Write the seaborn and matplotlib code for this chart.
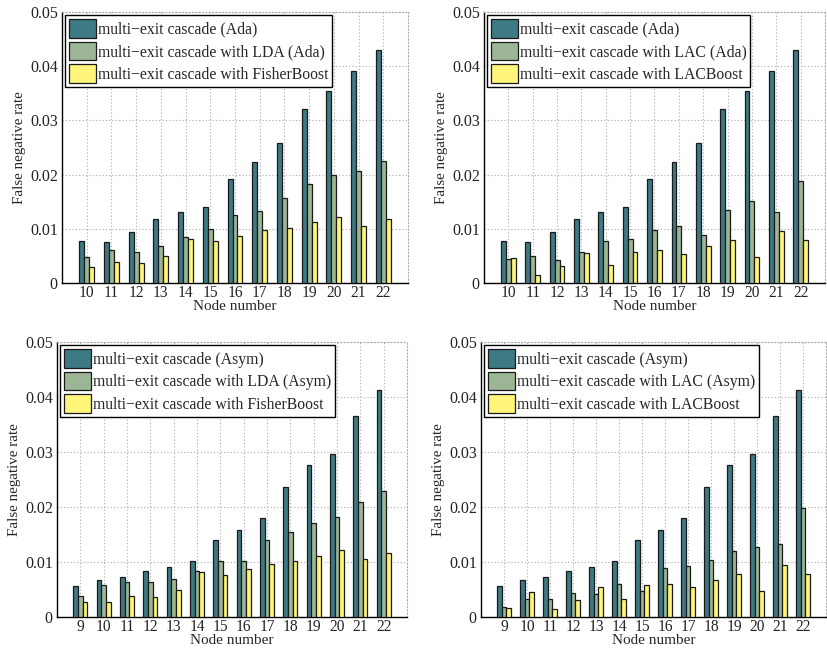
import pandas as pd
import matplotlib
matplotlib.use("Agg")
import matplotlib.pyplot as plt
import seaborn as sns

# Dados (taxa de falsos negativos por nó)
nodes_top = [10, 11, 12, 13, 14, 15, 16, 17, 18, 19, 20, 21, 22]
nodes_bot = [9, 10, 11, 12, 13, 14, 15, 16, 17, 18, 19, 20, 21, 22]

ada = [0.0077, 0.0075, 0.0094, 0.0118, 0.0131, 0.0141, 0.0191, 0.0223, 0.0258,
       0.0321, 0.0355, 0.0391, 0.0429]
lda_ada = [0.0048, 0.0060, 0.0058, 0.0068, 0.0085, 0.0100, 0.0125, 0.0133, 0.0156,
           0.0183, 0.0200, 0.0206, 0.0226]
fisher_top = [0.0030, 0.0039, 0.0037, 0.0050, 0.0081, 0.0077, 0.0087, 0.0098, 0.0102,
              0.0112, 0.0122, 0.0106, 0.0118]
lac_ada = [0.0044, 0.0050, 0.0042, 0.0058, 0.0077, 0.0081, 0.0098, 0.0106, 0.0089,
           0.0135, 0.0151, 0.0131, 0.0189]
lacboost_top = [0.0046, 0.0015, 0.0031, 0.0056, 0.0033, 0.0058, 0.0060, 0.0054, 0.0068,
                0.0079, 0.0048, 0.0096, 0.0079]

asym = [0.0056, 0.0068, 0.0072, 0.0083, 0.0091, 0.0101, 0.0140, 0.0159, 0.0180,
        0.0236, 0.0276, 0.0296, 0.0365, 0.0412]
lda_asym = [0.0039, 0.0058, 0.0064, 0.0064, 0.0069, 0.0083, 0.0101, 0.0101, 0.0140,
            0.0155, 0.0171, 0.0182, 0.0209, 0.0230]
fisher_bot = [0.0028, 0.0028, 0.0039, 0.0037, 0.0050, 0.0081, 0.0077, 0.0087, 0.0097,
              0.0101, 0.0111, 0.0122, 0.0105, 0.0117]
lac_asym = [0.0019, 0.0033, 0.0033, 0.0043, 0.0042, 0.0060, 0.0047, 0.0089, 0.0093,
            0.0103, 0.0120, 0.0128, 0.0132, 0.0198]
lacboost_bot = [0.0017, 0.0045, 0.0014, 0.0031, 0.0055, 0.0033, 0.0058, 0.0060, 0.0054,
                0.0068, 0.0078, 0.0047, 0.0095, 0.0078]

cores = ["#3d7a84", "#9bb595", "#fff57a"]

sns.set_theme(style="white")
plt.rcParams.update({
    "font.family": ["Liberation Serif", "DejaVu Serif"],
    "font.size": 10.5,
    "axes.linewidth": 1.0,
})


def monta_df(nodes, series, nomes):
    linhas = []
    for nome, vals in zip(nomes, series):
        for n, v in zip(nodes, vals):
            linhas.append({"node": str(n), "metodo": nome, "fnr": v})
    return pd.DataFrame(linhas)


def painel(ax, nodes, series, nomes):
    df = monta_df(nodes, series, nomes)
    sns.barplot(data=df, x="node", y="fnr", hue="metodo", palette=cores,
                saturation=1, width=0.6, edgecolor="#1a1a1a", linewidth=0.9,
                ax=ax, order=[str(n) for n in nodes], hue_order=nomes, zorder=3)
    ax.set_xlim(-1, len(nodes))
    ax.set_ylim(0, 0.05)
    ax.set_yticks([0, 0.01, 0.02, 0.03, 0.04, 0.05])
    ax.set_yticklabels(["0", "0.01", "0.02", "0.03", "0.04", "0.05"])
    ax.grid(True, linestyle=(0, (1, 2)), color="#aaaaaa", linewidth=0.8, zorder=0)
    ax.set_axisbelow(True)
    for s in ["top", "right"]:
        ax.spines[s].set_linestyle((0, (1, 2)))
        ax.spines[s].set_color("#aaaaaa")
        ax.spines[s].set_linewidth(0.8)
    for s in ["left", "bottom"]:
        ax.spines[s].set_color("black")
    ax.tick_params(axis="y", direction="in", length=3, labelsize=11.5,
                   colors="#222222", pad=3)
    ax.tick_params(axis="x", direction="in", length=3, labelsize=11.2,
                   colors="#222222", pad=1.5)
    ax.set_xlabel("Node number", fontsize=11, labelpad=-0.5)
    ax.set_ylabel("False negative rate", fontsize=10.8, labelpad=3)
    h, l = ax.get_legend_handles_labels()
    ax.legend(h, l, loc="upper left", fontsize=11.3, frameon=True, fancybox=False,
              framealpha=1, edgecolor="black", borderaxespad=0.2,
              handlelength=1.7, handleheight=1.45, handletextpad=0.12,
              labelspacing=0.25, borderpad=0.25)
    ax.get_legend().get_frame().set_linewidth(1.0)


fig = plt.figure(figsize=(8.28, 6.51), dpi=100)
ax1 = fig.add_axes([62 / 828, 1 - 283 / 651, 346 / 828, 271 / 651])
ax2 = fig.add_axes([484 / 828, 1 - 283 / 651, 341 / 828, 271 / 651])
ax3 = fig.add_axes([57 / 828, 1 - 617 / 651, 350 / 828, 275 / 651])
ax4 = fig.add_axes([481 / 828, 1 - 617 / 651, 345 / 828, 275 / 651])

painel(ax1, nodes_top, [ada, lda_ada, fisher_top],
       ["multi−exit cascade (Ada)", "multi−exit cascade with LDA (Ada)",
        "multi−exit cascade with FisherBoost"])
painel(ax2, nodes_top, [ada, lac_ada, lacboost_top],
       ["multi−exit cascade (Ada)", "multi−exit cascade with LAC (Ada)",
        "multi−exit cascade with LACBoost"])
painel(ax3, nodes_bot, [asym, lda_asym, fisher_bot],
       ["multi−exit cascade (Asym)", "multi−exit cascade with LDA (Asym)",
        "multi−exit cascade with FisherBoost"])
painel(ax4, nodes_bot, [asym, lac_asym, lacboost_bot],
       ["multi−exit cascade (Asym)", "multi−exit cascade with LAC (Asym)",
        "multi−exit cascade with LACBoost"])

fig.savefig("out.png", dpi=100)
